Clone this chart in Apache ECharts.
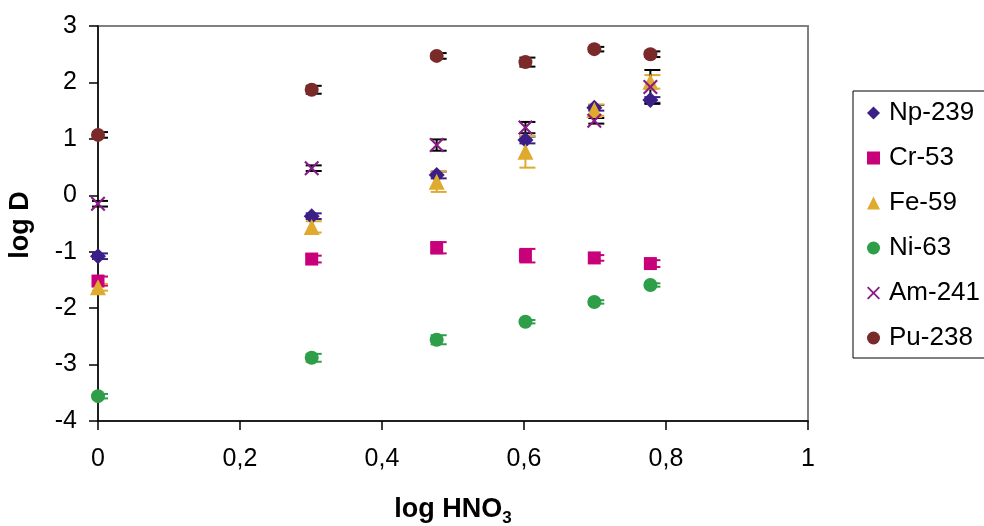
<!DOCTYPE html>
<html>
<head>
<meta charset="utf-8">
<script src="https://cdn.jsdelivr.net/npm/echarts@6/dist/echarts.min.js"></script>
<style>
    html, body {margin: 0; padding: 0; background: #fff;}
    #chart {width: 984px; height: 526px;}
</style>
</head>
<body>
<div id="chart"></div>
<script>
// log HNO3 values (x)
var logHNO3 = [0, 0.301, 0.477, 0.602, 0.699, 0.778];

// log D values per nuclide
var np239 = [-1.08, -0.37, 0.36, 0.98, 1.55, 1.69];
var cr53 = [-1.52, -1.13, -0.93, -1.07, -1.11, -1.21];
var fe59 = [-1.63, -0.56, 0.24, 0.77, 1.51, 2.01];
var ni63 = [-3.56, -2.88, -2.56, -2.24, -1.89, -1.59];
var am241 = [-0.15, 0.48, 0.89, 1.20, 1.32, 1.92];
var pu238 = [1.07, 1.87, 2.47, 2.36, 2.59, 2.50];

// error bar sizes (log D units)
var np239Err = [0.05, 0.05, 0.06, 0.06, 0.05, 0.05];
var cr53Err = [0.08, 0.06, 0.1, 0.12, 0.05, 0.06];
var fe59Err = [0.06, 0.1, 0.18, 0.28, 0.1, 0.12];
var ni63Err = [0.04, 0.07, 0.08, 0.03, 0.03, 0.03];
var am241Err = [0.05, 0.05, 0.1, 0.1, 0.05, 0.3];
var pu238Err = [0.05, 0.07, 0.05, 0.08, 0.04, 0.05];

var FONT = 'Liberation Sans, Arial, sans-serif';
var crossPath = 'path://M0,1L1,0L5,4L9,0L10,1L6,5L10,9L9,10L5,6L1,10L0,9L4,5Z';

var nuclides = [
    {name: 'Np-239', y: np239, err: np239Err, color: '#3a1f86', errColor: '#3a1f86', symbol: 'diamond', size: 16},
    {name: 'Cr-53', y: cr53, err: cr53Err, color: '#c8007a', errColor: '#c8007a', symbol: 'rect', size: 13},
    {name: 'Fe-59', y: fe59, err: fe59Err, color: '#e0aa2e', errColor: '#e0aa2e', symbol: 'triangle', size: 16},
    {name: 'Ni-63', y: ni63, err: ni63Err, color: '#2e9e48', errColor: '#2e9e48', symbol: 'circle', size: 14},
    {name: 'Am-241', y: am241, err: am241Err, color: '#871c86', errColor: '#000000', symbol: crossPath, size: 15},
    {name: 'Pu-238', y: pu238, err: pu238Err, color: '#7b2a2a', errColor: '#000000', symbol: 'circle', size: 14}
];

function pairs(ys) {
    return logHNO3.map(function (x, i) { return [x, ys[i]]; });
}

// vertical error bar with caps sticking out to the right
function errorItem(color) {
    return function (params, api) {
        var lo = api.coord([api.value(0), api.value(1) - api.value(2)]);
        var hi = api.coord([api.value(0), api.value(1) + api.value(2)]);
        var style = {stroke: color, lineWidth: 2};
        return {
            type: 'group',
            children: [
                {type: 'line', shape: {x1: lo[0], y1: lo[1], x2: hi[0], y2: hi[1]}, style: style},
                {type: 'line', shape: {x1: lo[0] - 6, y1: lo[1], x2: lo[0] + 10, y2: lo[1]}, style: style},
                {type: 'line', shape: {x1: hi[0] - 6, y1: hi[1], x2: hi[0] + 10, y2: hi[1]}, style: style}
            ]
        };
    };
}

var series = [];
nuclides.forEach(function (n) {
    series.push({
        name: n.name + ' err',
        type: 'custom',
        renderItem: errorItem(n.errColor),
        data: logHNO3.map(function (x, i) { return [x, n.y[i], n.err[i]]; }),
        z: 2,
        silent: true
    });
});
nuclides.forEach(function (n) {
    series.push({
        name: n.name,
        type: 'scatter',
        symbol: n.symbol,
        symbolSize: n.size,
        itemStyle: {color: n.color, opacity: 1},
        data: pairs(n.y),
        z: 3
    });
});

var chart = echarts.init(document.getElementById('chart'));

var option = {
    animation: false,
    textStyle: {fontFamily: FONT},
    grid: {
        left: 98, top: 26, right: 176, bottom: 105,
        show: true, borderColor: '#808080', borderWidth: 2, backgroundColor: 'transparent'
    },
    legend: {
        orient: 'vertical',
        left: 853,
        top: 91,
        data: nuclides.map(function (n) { return n.name; }),
        itemWidth: 13,
        itemHeight: 13,
        itemGap: 19,
        padding: [9, 40, 7, 14],
        borderColor: '#000',
        borderWidth: 1,
        textStyle: {fontSize: 26, color: '#000', lineHeight: 24, padding: [0, 0, 0, 4]}
    },
    xAxis: {
        type: 'value',
        min: 0,
        max: 1,
        interval: 0.2,
        axisLine: {show: true, onZero: false, lineStyle: {color: '#000', width: 1.5}},
        axisTick: {show: true, length: 9, lineStyle: {color: '#000', width: 1.5}},
        splitLine: {show: false},
        axisLabel: {
            fontSize: 25, color: '#000', margin: 26,
            formatter: function (v) {
                if (v === 0 || v === 1) return String(v);
                return v.toFixed(1).replace('.', ',');
            }
        }
    },
    yAxis: {
        type: 'value',
        min: -4,
        max: 3,
        interval: 1,
        axisLine: {show: true, onZero: false, lineStyle: {color: '#000', width: 1.5}},
        axisTick: {show: true, length: 9, lineStyle: {color: '#000', width: 1.5}},
        splitLine: {show: false},
        axisLabel: {fontSize: 25, color: '#000', margin: 21}
    },
    graphic: [
        {
            type: 'text',
            x: 21, y: 225,
            rotation: Math.PI / 2,
            style: {
                text: 'log D', fontSize: 27, fontWeight: 'bold', fill: '#000',
                fontFamily: FONT, align: 'center', verticalAlign: 'middle'
            }
        },
        {
            type: 'text',
            x: 453, y: 510,
            style: {
                text: '{a|log HNO}{b|3}',
                align: 'center', verticalAlign: 'middle',
                rich: {
                    a: {fontSize: 27, fontWeight: 'bold', fill: '#000', fontFamily: FONT},
                    b: {fontSize: 17, fontWeight: 'bold', fill: '#000', fontFamily: FONT, padding: [16, 0, 0, 0]}
                }
            }
        }
    ],
    series: series
};

chart.setOption(option);
</script>
</body>
</html>
